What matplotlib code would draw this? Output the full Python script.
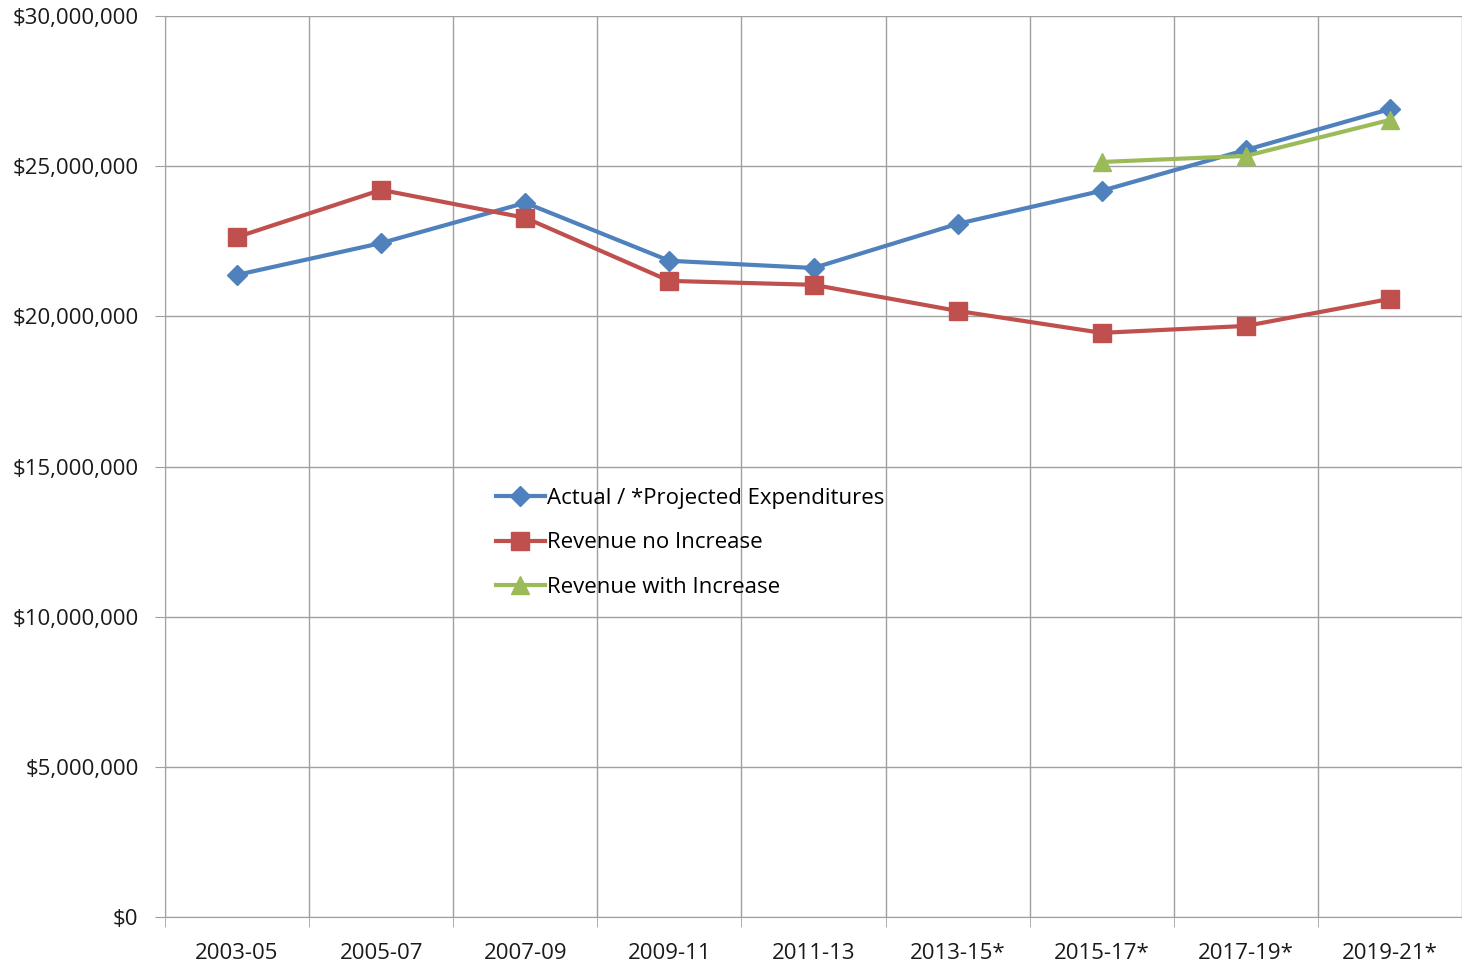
import numpy as np
import matplotlib.pyplot as plt
from matplotlib.ticker import FuncFormatter, MultipleLocator

periods = ['2003-05', '2005-07', '2007-09', '2009-11', '2011-13',
           '2013-15*', '2015-17*', '2017-19*', '2019-21*']

expenditures = [21.38, 22.44, 23.78, 21.85, 21.61, 23.08, 24.18, 25.54, 26.90]   # $M
revenue_no_inc = [22.64, 24.21, 23.28, 21.18, 21.05, 20.18, 19.45, 19.68, 20.58]
revenue_inc = [np.nan] * 6 + [25.14, 25.34, 26.54]

plt.rcParams['font.family'] = ['Open Sans', 'DejaVu Sans']

fig = plt.figure(figsize=(14.62, 9.65), dpi=100)
ax = fig.add_axes([165 / 1462, 1 - 917 / 965, 1297 / 1462, 901 / 965])

x = np.arange(len(periods))
ax.plot(x, np.array(expenditures) * 1e6, color='#4F81BD', lw=3, marker='D', ms=10,
        label='Actual / *Projected Expenditures')
ax.plot(x, np.array(revenue_no_inc) * 1e6, color='#C0504D', lw=3, marker='s', ms=13,
        label='Revenue no Increase')
ax.plot(x, np.array(revenue_inc) * 1e6, color='#9BBB59', lw=3, marker='^', ms=13,
        label='Revenue with Increase')

ax.set_xlim(-0.5, len(periods) - 0.5)
ax.set_ylim(0, 30e6)
ax.yaxis.set_major_locator(MultipleLocator(5e6))
ax.yaxis.set_major_formatter(FuncFormatter(lambda v, p: f'${v:,.0f}'))
ax.set_xticks(x)
ax.set_xticklabels(periods)
ax.set_xticks(np.arange(-0.5, len(periods)), minor=True)

ax.grid(True, which='major', axis='y', color='#a0a0a0', lw=1)
ax.grid(True, which='minor', axis='x', color='#a0a0a0', lw=1)
ax.set_axisbelow(True)

for s in ['top', 'right']:
    ax.spines[s].set_visible(False)
for s in ['left', 'bottom']:
    ax.spines[s].set_color('#a0a0a0')
ax.tick_params(axis='y', length=7, color='#a0a0a0', labelsize=16, pad=12, labelcolor='#1a1a1a')
ax.tick_params(axis='x', which='major', length=0, labelsize=16, pad=19, labelcolor='#1a1a1a')
ax.tick_params(axis='x', which='minor', length=7, color='#a0a0a0')

ax.legend(loc='upper left', bbox_to_anchor=(476 / 1462, 1 - 468 / 965),
          bbox_transform=fig.transFigure, frameon=False, fontsize=16,
          handlelength=2.2, handletextpad=0.1, labelspacing=1.05)

fig.savefig('out.png', dpi=100)
